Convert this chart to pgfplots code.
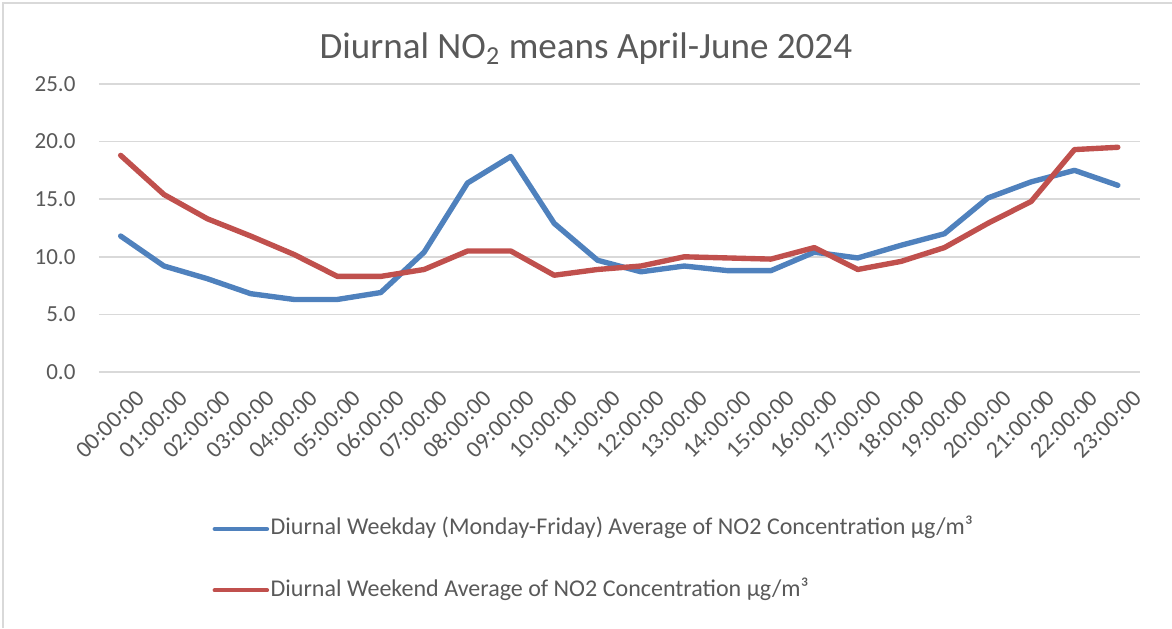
\documentclass[border=0pt]{standalone}
\usepackage{pgfplots}
\pgfplotsset{compat=1.18}
\usepackage{fontspec}
\setmainfont{Carlito}
\definecolor{blueL}{HTML}{4F81BD}
\definecolor{redL}{HTML}{C0504D}
\definecolor{gridc}{HTML}{D9D9D9}
\definecolor{txt}{HTML}{595959}
\begin{document}
\begin{tikzpicture}
\path[use as bounding box] (-38.7pt,-100.1pt) rectangle (419.6pt,145.5pt);
\draw[gridc, line width=0.6pt] (-37.6pt,-100.1pt) -- (-37.6pt,144.4pt) -- (419.6pt,144.4pt);
\begin{axis}[
  at={(0pt,0pt)}, anchor=south west,
  scale only axis, width=406.9pt, height=112.7pt,
  xmin=-0.5, xmax=23.5, ymin=0, ymax=25,
  xtick={0,...,23},
  xticklabels={00:00:00,01:00:00,02:00:00,03:00:00,04:00:00,05:00:00,06:00:00,07:00:00,08:00:00,09:00:00,10:00:00,11:00:00,12:00:00,13:00:00,14:00:00,15:00:00,16:00:00,17:00:00,18:00:00,19:00:00,20:00:00,21:00:00,22:00:00,23:00:00},
  ytick={0,5,...,25},
  y tick label style={/pgf/number format/fixed, /pgf/number format/fixed zerofill, /pgf/number format/precision=1},
  /pgf/number format/assume math mode=true,
  tick label style={font=\fontsize{9}{10}\selectfont, text=txt},
  yticklabel style={anchor=east, inner sep=0pt, xshift=-9pt},
  xticklabel style={rotate=45, anchor=east, inner sep=0pt, yshift=-11.5pt, xshift=-0.5pt, font=\fontsize{9.3}{10}\selectfont},
  axis line style={draw=none},
  major tick length=0pt,
  ymajorgrids, grid style={gridc, line width=0.55pt},
  legend style={draw=none, fill=none, at={(axis description cs:0.1087,-0.505)}, anchor=north west,
    inner sep=0pt, row sep=15.5pt, column sep=0.6pt, font=\fontsize{9.4}{10}\selectfont, text=txt,
    nodes={inner sep=0pt, text height=6.5pt, text depth=2pt}},
  legend cell align=left,
  legend image code/.code={\draw[#1, line width=1.6pt, line cap=round] (0pt,0pt) -- (20.5pt,0pt);},
]
\addplot[blueL, line width=2.1pt, line join=round, line cap=round] coordinates {
(0,11.8) (1,9.2) (2,8.1) (3,6.8) (4,6.3) (5,6.3) (6,6.9) (7,10.4) (8,16.4) (9,18.7) (10,12.9) (11,9.7)
(12,8.7) (13,9.2) (14,8.8) (15,8.8) (16,10.4) (17,9.9) (18,11.0) (19,12.0) (20,15.1) (21,16.5) (22,17.5) (23,16.2)};
\addlegendentry{Diurnal Weekday (Monday-Friday) Average of NO2 Concentration µg/m³}
\addplot[redL, line width=2.1pt, line join=round, line cap=round] coordinates {
(0,18.8) (1,15.4) (2,13.3) (3,11.8) (4,10.2) (5,8.3) (6,8.3) (7,8.9) (8,10.5) (9,10.5) (10,8.4) (11,8.9)
(12,9.2) (13,10.0) (14,9.9) (15,9.8) (16,10.8) (17,8.9) (18,9.6) (19,10.8) (20,12.9) (21,14.8) (22,19.3) (23,19.5)};
\addlegendentry{Diurnal Weekend Average of NO2 Concentration µg/m³}
\end{axis}
\node[font=\fontsize{14.5}{16}\selectfont, text=txt] at (190.4pt,126.3pt) {Diurnal NO\textsubscript{2} means April-June 2024};
\end{tikzpicture}
\end{document}
